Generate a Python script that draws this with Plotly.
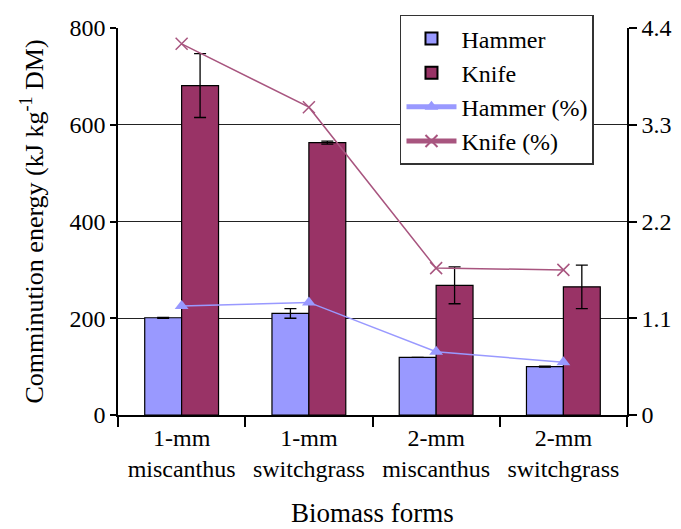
import plotly.graph_objects as go

categories = ["1-mm<br>miscanthus", "1-mm<br>switchgrass", "2-mm<br>miscanthus", "2-mm<br>switchgrass"]
hammer_energy = [201, 210, 119, 100]
hammer_err = [1, 10, None, 1]
knife_energy = [681, 563, 268, 265]
knife_err = [66, 3, 38, 45]
hammer_pct = [1.24, 1.28, 0.72, 0.60]
knife_pct = [4.22, 3.50, 1.67, 1.65]

FONT = "Liberation Serif, Times New Roman, serif"
HAMMER = "#9999FF"
KNIFE = "#993366"

fig = go.Figure()
fig.add_trace(go.Bar(
    x=categories, y=hammer_energy, name="Hammer",
    marker=dict(color=HAMMER, line=dict(color="black", width=1.2)),
    error_y=dict(type="data", array=hammer_err, color="black", thickness=1.3, width=6),
))
fig.add_trace(go.Bar(
    x=categories, y=knife_energy, name="Knife",
    marker=dict(color=KNIFE, line=dict(color="black", width=1.2)),
    error_y=dict(type="data", array=knife_err, color="black", thickness=1.3, width=6),
))
fig.add_trace(go.Scatter(
    x=categories, y=hammer_pct, name="Hammer (%)", yaxis="y2", mode="lines+markers",
    line=dict(color=HAMMER, width=1.5),
    marker=dict(symbol="triangle-up", size=12, color=HAMMER),
))
fig.add_trace(go.Scatter(
    x=categories, y=knife_pct, name="Knife (%)", yaxis="y2", mode="lines+markers",
    line=dict(color="#A8557F", width=1.5),
    marker=dict(symbol="x-thin", size=12, line=dict(color="#A8557F", width=1.5)),
))

# page body adds an 8px offset, margins compensate for it
fig.update_layout(
    width=681, height=529,
    margin=dict(l=110, r=62, t=20, b=122, autoexpand=False),
    paper_bgcolor="white", plot_bgcolor="white",
    font=dict(family=FONT, size=24, color="black"),
    barmode="group", bargap=0.42, bargroupgap=0,
    showlegend=True,
    legend=dict(
        x=0.554, y=1.034, xanchor="left", yanchor="top",
        bgcolor="white", bordercolor="#333", borderwidth=1.5,
        font=dict(family=FONT, size=24), tracegroupgap=0,
        itemsizing="constant", itemwidth=50,
    ),
    xaxis=dict(
        type="category", showline=True, linecolor="black", linewidth=1.5,
        ticks="outside", tickson="boundaries", ticklen=10, tickcolor="black", tickwidth=1.5,
        showgrid=False, automargin=False,
        title=dict(text="Biomass forms", font=dict(size=27), standoff=22),
        tickfont=dict(size=24),
    ),
    yaxis=dict(
        range=[0, 800], tickvals=[0, 200, 400, 600, 800],
        showline=True, linecolor="black", linewidth=1.5,
        ticks="outside", ticklen=6, tickcolor="black", tickwidth=1.5,
        showgrid=True, gridcolor="#222", gridwidth=1.2, zeroline=False, automargin=False,
        title=dict(text="Comminution energy (kJ kg<sup>-1</sup> DM)", font=dict(size=26), standoff=18),
        tickfont=dict(size=24),
    ),
    yaxis2=dict(
        range=[0, 4.4], tickvals=[0, 1.1, 2.2, 3.3, 4.4], ticktext=["0", "1.1", "2.2", "3.3", "4.4"],
        overlaying="y", side="right",
        showline=True, linecolor="black", linewidth=1.5,
        ticks="outside", ticklen=8, tickcolor="black", tickwidth=1.5,
        showgrid=False, zeroline=False, automargin=False,
        tickfont=dict(size=24),
    ),
)

fig.write_html("out.html")
